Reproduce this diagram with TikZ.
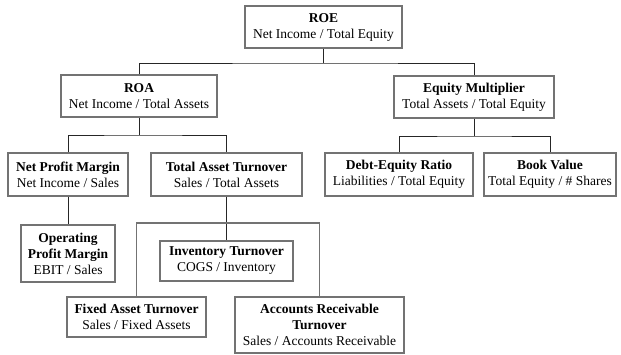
\documentclass[tikz,border=0pt]{standalone}
\usepackage{fontspec}
\setmainfont{Liberation Serif}
\begin{document}
\begin{tikzpicture}[x=1bp,y=-1bp,
  box/.style={draw=black!55, line width=1.4bp, fill=white, inner sep=0pt,
    align=center, font=\fontsize{13.5bp}{16bp}\selectfont},
  link/.style={draw=black!85, line width=1bp},
  frame/.style={draw=black!55, line width=1.4bp}]
\useasboundingbox (0,0) rectangle (621,354);

% top level
\node[box, minimum width=157bp, minimum height=42bp] (roe) at (323.5,27)
  {\textbf{ROE}\\Net Income / Total Equity};

% second level
\node[box, minimum width=156bp, minimum height=42bp] (roa) at (139,96)
  {\textbf{ROA}\\Net Income / Total Assets};
\node[box, minimum width=160bp, minimum height=42bp] (em) at (474,97)
  {\textbf{Equity Multiplier}\\Total Assets / Total Equity};

% third level
\node[box, minimum width=120bp, minimum height=43bp] (npm) at (68,174.5)
  {\textbf{Net Profit Margin}\\Net Income / Sales};
\node[box, minimum width=151bp, minimum height=43bp] (tat) at (226.5,174.5)
  {\textbf{Total Asset Turnover}\\Sales / Total Assets};
\node[box, minimum width=148bp, minimum height=43bp] (de) at (399,174.5)
  {\textbf{Debt-Equity Ratio}\\Liabilities / Total Equity};
\node[box, minimum width=132bp, minimum height=43bp] (bv) at (550,174.5)
  {\textbf{Book Value}\\Total Equity / \# Shares};

% fourth level
\node[box, minimum width=94bp, minimum height=57bp] (opm) at (68,253.5)
  {\textbf{Operating}\\\textbf{Profit Margin}\\EBIT / Sales};
\node[box, minimum width=133bp, minimum height=40bp] (inv) at (226.5,261)
  {\textbf{Inventory Turnover}\\COGS / Inventory};
\node[box, minimum width=139bp, minimum height=40bp] (fa) at (136.5,317)
  {\textbf{Fixed Asset Turnover}\\Sales / Fixed Assets};
\node[box, minimum width=169bp, minimum height=56bp] (ar) at (319.5,325)
  {\textbf{Accounts Receivable}\\\textbf{Turnover}\\Sales / Accounts Receivable};

% junction points of the tree
\coordinate (bus0) at (323.5,63);
\coordinate (busA) at (139,135);
\coordinate (busE) at (474,136);
\coordinate (brL) at (136.5,223);
\coordinate (brR) at (319.5,223);

% connectors
\draw[link] (roe.south) -- (bus0);
\draw[link] (roa.north) |- (bus0) -| (em.north);
\draw[link] (roa.south) -- (busA);
\draw[link] (npm.north) |- (busA) -| (tat.north);
\draw[link] (em.south) -- (busE);
\draw[link] (de.north) |- (busE) -| (bv.north);
\draw[link] (npm.south) -- (opm.north);
\draw[link] (tat.south) -- (inv.north);
\draw[frame] (fa.north) -- (brL) -- (brR) -- (ar.north);
\end{tikzpicture}
\end{document}
